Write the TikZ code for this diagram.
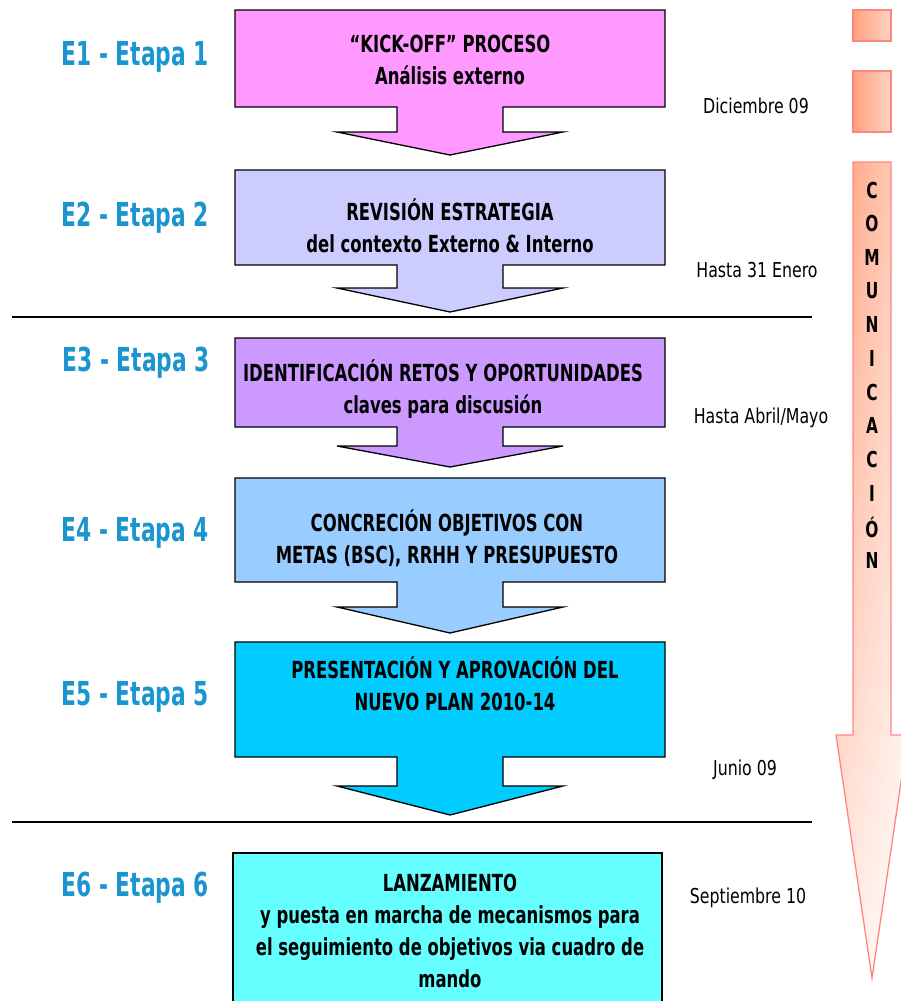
\documentclass[tikz,border=0pt]{standalone}
\usepackage{fontspec}
\usetikzlibrary{shadings}
\setmainfont{DejaVu Sans}[FakeStretch=0.70]
\newfontfamily\datefont{DejaVu Sans}[FakeStretch=0.77]
\newfontfamily\labelfont{DejaVu Sans}[FakeStretch=0.66]
\begin{document}
\begin{tikzpicture}[x=1pt,y=-1pt,
  stageline/.style={draw=black,line width=1.3pt,line join=miter},
  boxtext/.style={font=\fontsize{23.5}{32}\selectfont\bfseries,align=center,text=black,inner sep=0pt},
  etapa/.style={font=\labelfont\fontsize{33}{36}\selectfont\bfseries,text=etapablue,anchor=east,inner sep=0pt},
  fecha/.style={font=\datefont\fontsize{20.5}{24}\selectfont,text=black,inner sep=0pt},
  letra/.style={font=\fontsize{22}{24}\selectfont\bfseries,text=black,inner sep=0pt},
  orangebox/.style={draw=comborder,line width=1.3pt,left color=comleft,right color=comright}
]
\definecolor{etapablue}{HTML}{1B95D0}
\definecolor{s1}{HTML}{FF99FF}
\definecolor{s2}{HTML}{CCCCFF}
\definecolor{s3}{HTML}{CC99FF}
\definecolor{s4}{HTML}{99CCFF}
\definecolor{s5}{HTML}{00CCFF}
\definecolor{s6}{HTML}{66FFFF}
\definecolor{comleft}{HTML}{FFA17C}
\definecolor{comright}{HTML}{FFD3C4}
\definecolor{comlow}{HTML}{FFEDE6}
\definecolor{comborder}{HTML}{FF8585}

\useasboundingbox (0,0) rectangle (900,1001);

% stage box with its downward arrow: #1 top, #2 box bottom, #3 stem bottom, #4 tip, #5 colour
\newcommand\stageshape[5]{%
  \draw[stageline,fill=#5] (235,#1) -- (665,#1) -- (665,#2) -- (503,#2) -- (503,#3)
    -- (563,#3) -- (450,#4) -- (337,#3) -- (397,#3) -- (397,#2) -- (235,#2) -- cycle;}

\stageshape{10}{107}{132}{155}{s1}
\stageshape{170}{265}{288}{312}{s2}
\stageshape{338}{427}{446}{467}{s3}
\stageshape{478}{582}{607}{633}{s4}
\stageshape{642}{757}{786}{815}{s5}
\draw[stageline,fill=s6] (233,853) rectangle (662,1004);

% separators between phases
\draw[line width=2pt] (12,317) -- (812,317);
\draw[line width=2pt] (12,822) -- (812,822);

% stage texts
\node[boxtext] (t1) at (450,60) {“KICK-OFF” PROCESO\\Análisis externo};
\node[boxtext] (t2) at (450,226) {REVISIÓN ESTRATEGIA\\del contexto Externo \& Interno};
\node[boxtext] (t3) at (443,389) {IDENTIFICACIÓN RETOS Y OPORTUNIDADES\\claves para discusión};
\node[boxtext] (t4) at (447,538) {CONCRECIÓN OBJETIVOS CON\\METAS (BSC), RRHH Y PRESUPUESTO};
\node[boxtext] (t5) at (455,684) {PRESENTACIÓN Y APROVACIÓN DEL\\NUEVO PLAN 2010-14};
\node[boxtext] (t6) at (450,931) {LANZAMIENTO\\y puesta en marcha de mecanismos para\\el seguimiento de objetivos via cuadro de\\mando};

% stage labels
\node[etapa] (e1) at (209,57) {E1 - Etapa 1};
\node[etapa] (e2) at (209,218) {E2 - Etapa 2};
\node[etapa] (e3) at (210,363) {E3 - Etapa 3};
\node[etapa] (e4) at (209,533) {E4 - Etapa 4};
\node[etapa] (e5) at (209,697) {E5 - Etapa 5};
\node[etapa] (e6) at (209,888) {E6 - Etapa 6};

% dates
\node[fecha] (d1) at (756,106) {Diciembre 09};
\node[fecha] (d2) at (757,270) {Hasta 31 Enero};
\node[fecha] (d3) at (761,418) {Hasta Abril/Mayo};
\node[fecha] (d4) at (745,770) {Junio 09};
\node[fecha] (d5) at (748,898) {Septiembre 10};

% communication column
\draw[orangebox] (853,10) rectangle (891,41);
\draw[orangebox] (853,71) rectangle (891,132);
\shade[upper left=comleft,upper right=comright,lower left=comlow,lower right=white]
  (853,162) -- (891,162) -- (891,735) -- (908,735) -- (872,978) -- (836,735) -- (853,735) -- cycle;
\draw[draw=comborder,line width=1.3pt,line join=miter]
  (853,162) -- (891,162) -- (891,735) -- (908,735) -- (872,978) -- (836,735) -- (853,735) -- cycle;

\foreach \l [count=\i from 0] in {C,O,M,U,N,I,C,A,C,I,Ó,N}
  \node[letra] (c\i) at (872,190+33.7*\i) {\l};
\end{tikzpicture}
\end{document}
